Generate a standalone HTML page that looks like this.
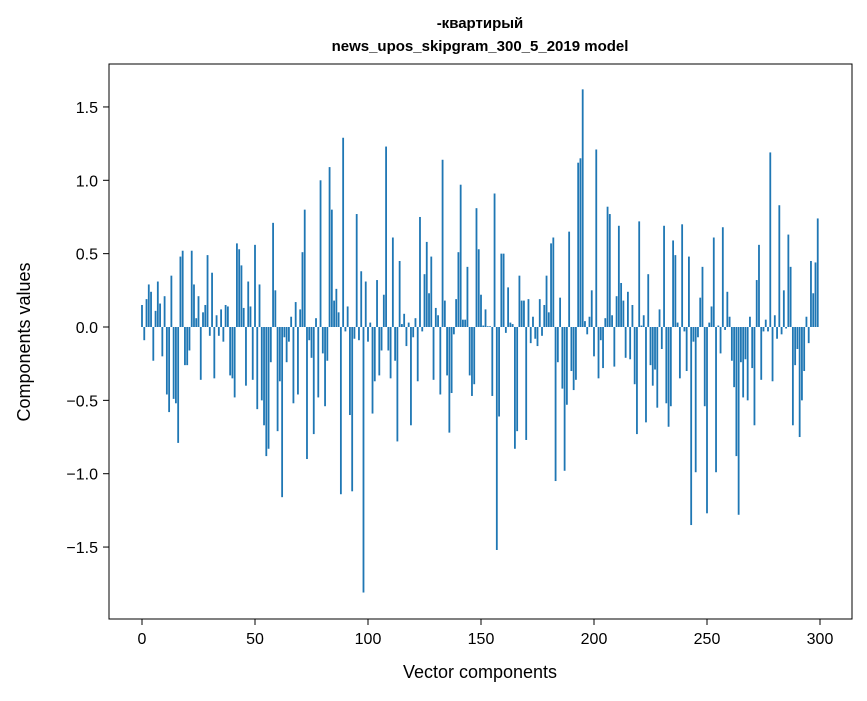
<!DOCTYPE html>
<html><head><meta charset="utf-8"><style>
body{margin:0;background:#fff;}
svg text{font-family:"Liberation Sans","DejaVu Sans",sans-serif;fill:#000;}
</style></head><body>
<svg id="chart" width="867" height="696" xmlns="http://www.w3.org/2000/svg">
<rect width="867" height="696" fill="#fff"/>
<text x="480" y="28" text-anchor="middle" font-size="15" font-weight="bold">-квартирый</text>
<text x="480" y="51" text-anchor="middle" font-size="15" font-weight="bold">news_upos_skipgram_300_5_2019 model</text>
<g id="bars"></g>
<g id="xticks"></g>
<g id="yticks"></g>
<rect x="109" y="64" width="743" height="555" fill="none" stroke="#000" stroke-width="1"/>
<text x="480" y="678" text-anchor="middle" font-size="18">Vector components</text>
<text transform="translate(30,342) rotate(-90)" text-anchor="middle" font-size="18">Components values</text>
</svg>
<script>
const values = [0.15,-0.09,0.19,0.29,0.24,-0.23,0.11,0.31,0.16,-0.20,
0.21,-0.46,-0.58,0.35,-0.49,-0.52,-0.79,0.48,0.52,-0.26,
-0.26,-0.16,0.52,0.29,0.06,0.21,-0.36,0.10,0.15,0.49,
-0.06,0.37,-0.35,0.08,-0.06,0.12,-0.10,0.15,0.14,-0.33,
-0.35,-0.48,0.57,0.53,0.42,0.13,-0.40,0.31,0.14,-0.36,
0.56,-0.56,0.29,-0.50,-0.67,-0.88,-0.83,-0.24,0.71,0.25,
-0.71,-0.37,-1.16,-0.07,-0.24,-0.10,0.07,-0.52,0.17,-0.46,
0.12,0.51,0.80,-0.90,-0.09,-0.21,-0.73,0.06,-0.48,1.00,
-0.18,-0.54,-0.23,1.09,0.80,0.18,0.26,0.10,-1.14,1.29,
-0.03,0.14,-0.60,-1.12,-0.08,0.77,-0.09,0.38,-1.81,0.31,
-0.10,0.03,-0.59,-0.37,0.32,-0.33,-0.16,0.22,1.23,-0.16,
-0.35,0.61,-0.23,-0.78,0.45,0.02,0.09,-0.13,0.03,-0.67,
-0.07,0.06,-0.37,0.75,-0.03,0.36,0.58,0.23,0.48,-0.36,
0.13,0.08,-0.46,1.14,0.18,-0.33,-0.72,-0.45,-0.05,0.19,
0.51,0.97,0.05,0.05,0.41,-0.33,-0.47,-0.39,0.81,0.53,
0.22,0.01,0.12,0.005,0.005,-0.47,0.91,-1.52,-0.61,0.50,
0.50,-0.04,0.27,0.03,0.02,-0.83,-0.71,0.35,0.18,0.18,
-0.77,0.19,-0.11,0.07,-0.08,-0.13,0.19,-0.06,0.15,0.35,
0.10,0.57,0.61,-1.05,-0.24,0.20,-0.42,-0.98,-0.53,0.65,
-0.30,-0.43,-0.36,1.12,1.15,1.62,0.04,-0.05,0.07,0.25,
-0.20,1.21,-0.35,-0.09,-0.28,0.06,0.82,0.77,0.08,-0.27,
0.21,0.69,0.30,0.18,-0.21,0.24,-0.22,0.15,-0.39,-0.73,
0.72,0.01,0.08,-0.65,0.36,-0.26,-0.40,-0.29,-0.55,0.12,
-0.15,0.69,-0.52,-0.68,-0.54,0.59,0.49,0.03,-0.35,0.70,
-0.03,-0.30,0.48,-1.35,-0.10,-0.99,-0.07,0.20,0.41,-0.54,
-1.27,0.03,0.14,0.61,-0.99,0.01,-0.18,0.68,-0.02,0.24,
0.07,-0.23,-0.41,-0.88,-1.28,-0.24,-0.48,-0.22,-0.50,0.07,
-0.28,-0.67,0.32,0.56,-0.36,-0.03,0.05,-0.03,1.19,-0.37,
0.08,-0.08,0.83,-0.05,0.25,-0.01,0.63,0.41,-0.67,-0.26,
-0.15,-0.75,-0.50,-0.30,0.07,-0.11,0.45,0.23,0.44,0.74];
const xTicks = [0,50,100,150,200,250,300];
const yTicks = [-1.5,-1.0,-0.5,0.0,0.5,1.0,1.5];
const yTickLabels = ["\u22121.5","\u22121.0","\u22120.5","0.0","0.5","1.0","1.5"];

const NS = "http://www.w3.org/2000/svg";
function xs(i){ return 142 + i*2.26; }
function ys(v){ return 327 - v*146.7; }
const bars = document.getElementById('bars');
values.forEach((v,i)=>{
  const r = document.createElementNS(NS,'rect');
  const y0 = ys(0), y1 = ys(v);
  r.setAttribute('x', xs(i-0.4));
  r.setAttribute('width', 0.8*2.26);
  r.setAttribute('y', Math.min(y0,y1));
  r.setAttribute('height', Math.max(Math.abs(y1-y0),0.3));
  r.setAttribute('fill', '#1f77b4');
  
  
  bars.appendChild(r);
});
const xg = document.getElementById('xticks');
xTicks.forEach(t=>{
  const l = document.createElementNS(NS,'line');
  l.setAttribute('x1',xs(t));l.setAttribute('x2',xs(t));
  l.setAttribute('y1',619);l.setAttribute('y2',625);
  l.setAttribute('stroke','#000');
  
  
  xg.appendChild(l);
  const tx = document.createElementNS(NS,'text');
  tx.setAttribute('x',xs(t));tx.setAttribute('y',644);
  tx.setAttribute('text-anchor','middle');tx.setAttribute('font-size','16');
  tx.textContent = t;
  
  
  xg.appendChild(tx);
});
const yg = document.getElementById('yticks');
yTicks.forEach((t,k)=>{
  const l = document.createElementNS(NS,'line');
  l.setAttribute('x1',103);l.setAttribute('x2',109);
  l.setAttribute('y1',ys(t));l.setAttribute('y2',ys(t));
  l.setAttribute('stroke','#000');
  
  
  yg.appendChild(l);
  const tx = document.createElementNS(NS,'text');
  tx.setAttribute('x',98);tx.setAttribute('y',ys(t)+6);
  tx.setAttribute('text-anchor','end');tx.setAttribute('font-size','16');
  tx.textContent = yTickLabels[k];
  
  
  yg.appendChild(tx);
});
</script>
</body></html>
